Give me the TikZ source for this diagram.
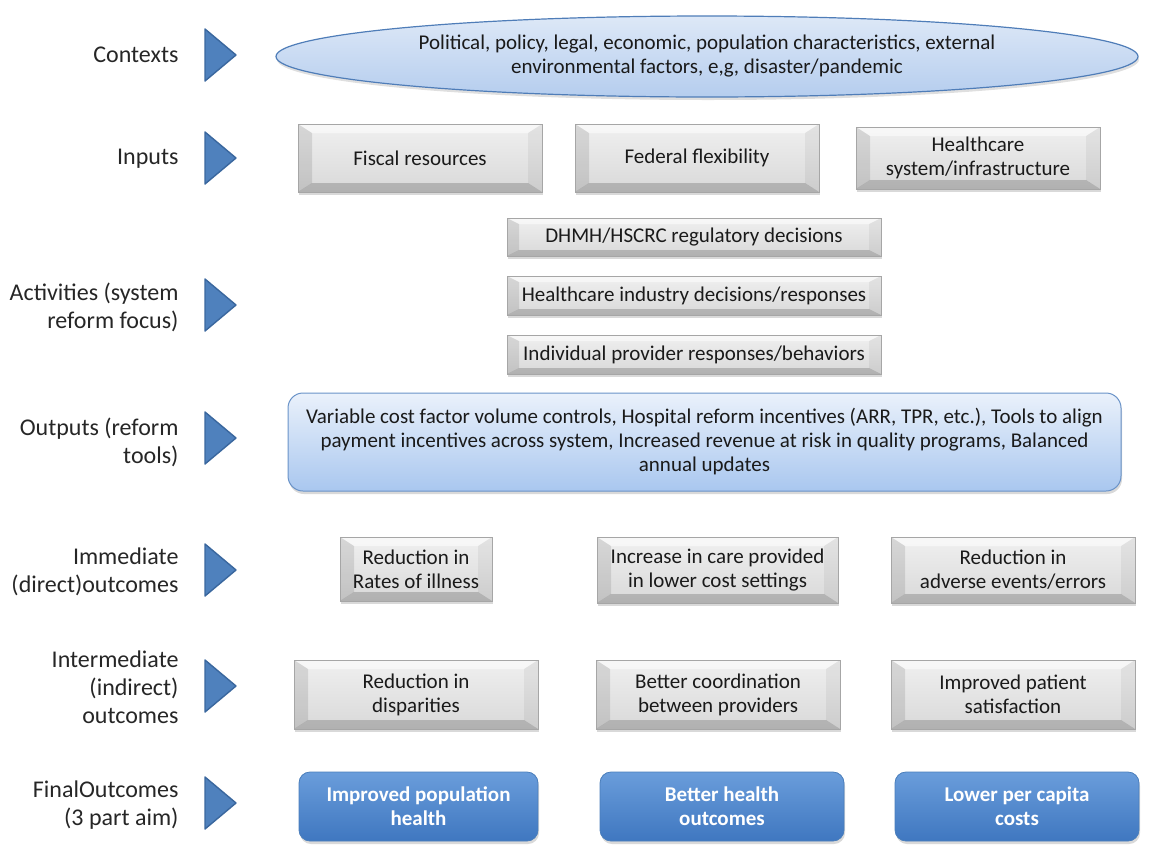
\documentclass[tikz,border=0pt]{standalone}
\usepackage{fontspec}
\setmainfont{Carlito}
\usetikzlibrary{shapes.geometric,shadows}

\definecolor{arrowfill}{HTML}{4F81BD}
\definecolor{arrowedge}{HTML}{3A679E}
\definecolor{labeltext}{HTML}{262626}
\definecolor{boxtext}{HTML}{1A1A1A}
\definecolor{boxedge}{HTML}{A6A6A6}
\definecolor{ctxtop}{HTML}{DDE8F7}
\definecolor{ctxbot}{HTML}{B5CDEE}
\definecolor{ctxedge}{HTML}{4F7DB8}
\definecolor{outtop}{HTML}{EAF1FB}
\definecolor{outbot}{HTML}{A9C7EF}
\definecolor{outedge}{HTML}{6A93C8}
\definecolor{fintop}{HTML}{6A9DDB}
\definecolor{finbot}{HTML}{3F77C0}
\definecolor{finedge}{HTML}{4A7EBB}

% bevelled faces of a box: #1 horizontal depth, #2 vertical depth
\newcommand\bevelfaces[2]{%
  \fill[white,opacity=.55]
    (path picture bounding box.north west) -- (path picture bounding box.north east)
    -- ([xshift=-#1,yshift=-#2]path picture bounding box.north east)
    -- ([xshift=#1,yshift=-#2]path picture bounding box.north west) -- cycle;
  \fill[black,opacity=.10]
    (path picture bounding box.north west) -- (path picture bounding box.south west)
    -- ([xshift=#1,yshift=#2]path picture bounding box.south west)
    -- ([xshift=#1,yshift=-#2]path picture bounding box.north west) -- cycle;
  \fill[black,opacity=.05]
    (path picture bounding box.north east) -- (path picture bounding box.south east)
    -- ([xshift=-#1,yshift=#2]path picture bounding box.south east)
    -- ([xshift=-#1,yshift=-#2]path picture bounding box.north east) -- cycle;
  \fill[black,opacity=.18]
    (path picture bounding box.south west) -- (path picture bounding box.south east)
    -- ([xshift=-#1,yshift=#2]path picture bounding box.south east)
    -- ([xshift=#1,yshift=#2]path picture bounding box.south west) -- cycle;
}

\tikzset{
  rowlabel/.style={anchor=east, align=right, text=labeltext,
    font=\fontsize{24}{28}\selectfont},
  rowarrow/.style={fill=arrowfill, draw=arrowedge, line width=1.4pt, line join=round},
  greybox/.style={draw=boxedge, line width=.6pt, top color=gray!12, bottom color=gray!30,
    text=boxtext, align=center, inner sep=0pt,
    drop shadow={shadow xshift=1pt, shadow yshift=-3pt, opacity=.3}},
  bigbevel/.style={greybox, path picture={\bevelfaces{14pt}{9pt}}},
  thinbevel/.style={greybox, path picture={\bevelfaces{12pt}{6pt}}},
  ctxshape/.style={ellipse, draw=ctxedge, line width=1.2pt, top color=ctxtop, bottom color=ctxbot,
    text=boxtext, align=center, inner sep=0pt, minimum width=862pt, minimum height=81pt,
    drop shadow={shadow xshift=1pt, shadow yshift=-3pt, opacity=.25}},
  toolbox/.style={rounded corners=15pt, draw=outedge, line width=1pt, top color=outtop,
    bottom color=outbot, text=boxtext, align=center, inner sep=0pt,
    minimum width=833pt, minimum height=98pt,
    drop shadow={shadow xshift=1pt, shadow yshift=-3pt, opacity=.3}},
  aimbox/.style={rounded corners=11pt, draw=finedge, line width=.8pt, top color=fintop,
    bottom color=finbot, text=white, font=\fontsize{21}{24}\selectfont\bfseries,
    align=center, inner sep=0pt, minimum width=244pt, minimum height=69pt,
    drop shadow={shadow xshift=1pt, shadow yshift=-3pt, opacity=.3}}
}

\begin{document}
\begin{tikzpicture}[x=1pt, y=-1pt, font=\fontsize{21}{24}\selectfont]
\useasboundingbox (0,0) rectangle (1156,844);

% row labels
\node[rowlabel] (lctx) at (182,55) {Contexts};
\node[rowlabel] (lin)  at (182,159) {Inputs};
\node[rowlabel] (lact) at (182,307) {Activities (system\\reform focus)};
\node[rowlabel] (lout) at (182,442) {Outputs (reform\\tools)};
\node[rowlabel] (limm) at (182,572) {Immediate\\(direct)outcomes};
\node[rowlabel] (lint) at (182,687) {Intermediate\\(indirect)\\outcomes};
\node[rowlabel] (lfin) at (182,805) {FinalOutcomes\\(3 part aim)};

% row markers
\foreach \yy in {55,158,305,438,570,686,803}
  \draw[rowarrow] (205,\yy-26) -- (236,\yy) -- (205,\yy+26) -- cycle;

% contexts
\node[ctxshape] (ctx) at (707,56.5)
  {Political, policy, legal, economic, population characteristics, external\\
   environmental factors, e,g, disaster/pandemic};

% inputs
\node[bigbevel, minimum width=244pt, minimum height=68pt] (fiscal) at (420,158) {Fiscal resources};
\node[bigbevel, minimum width=244pt, minimum height=68pt] (federal) at (697,158) {Federal flexibility};
\node[bigbevel, minimum width=244pt, minimum height=62pt] (system) at (978,158)
  {Healthcare\\system/infrastructure};

% activities
\node[thinbevel, minimum width=374pt, minimum height=38pt] (dhmh) at (694,237)
  {DHMH/HSCRC regulatory decisions};
\node[thinbevel, minimum width=374pt, minimum height=39pt] (industry) at (694,295.5)
  {Healthcare industry decisions/responses};
\node[thinbevel, minimum width=374pt, minimum height=39pt] (provider) at (694,354.5)
  {Individual provider responses/behaviors};

% outputs
\node[toolbox] (tools) at (704.5,442)
  {Variable cost factor volume controls, Hospital reform incentives (ARR, TPR, etc.), Tools to align\\
   payment incentives across system, Increased revenue at risk in quality programs, Balanced\\
   annual updates};

% immediate outcomes
\node[bigbevel, minimum width=152pt, minimum height=64pt] (illness) at (416,569)
  {Reduction in\\Rates of illness};
\node[bigbevel, minimum width=241pt, minimum height=66pt] (lowcost) at (717.5,570)
  {Increase in care provided\\in lower cost settings};
\node[bigbevel, minimum width=244pt, minimum height=66pt] (adverse) at (1013,570)
  {Reduction in\\adverse events/errors};

% intermediate outcomes
\node[bigbevel, minimum width=244pt, minimum height=69pt] (disparity) at (416,694.5)
  {Reduction in\\disparities};
\node[bigbevel, minimum width=244pt, minimum height=69pt] (coord) at (718,694.5)
  {Better coordination\\between providers};
\node[bigbevel, minimum width=244pt, minimum height=69pt] (satisf) at (1013,694.5)
  {Improved patient\\satisfaction};

% final outcomes
\node[aimbox, minimum width=239pt] (pophealth) at (418.5,806.5) {Improved population\\health};
\node[aimbox] (health) at (722,806.5) {Better health\\outcomes};
\node[aimbox] (costs) at (1017,806.5) {Lower per capita\\costs};
\end{tikzpicture}
\end{document}
